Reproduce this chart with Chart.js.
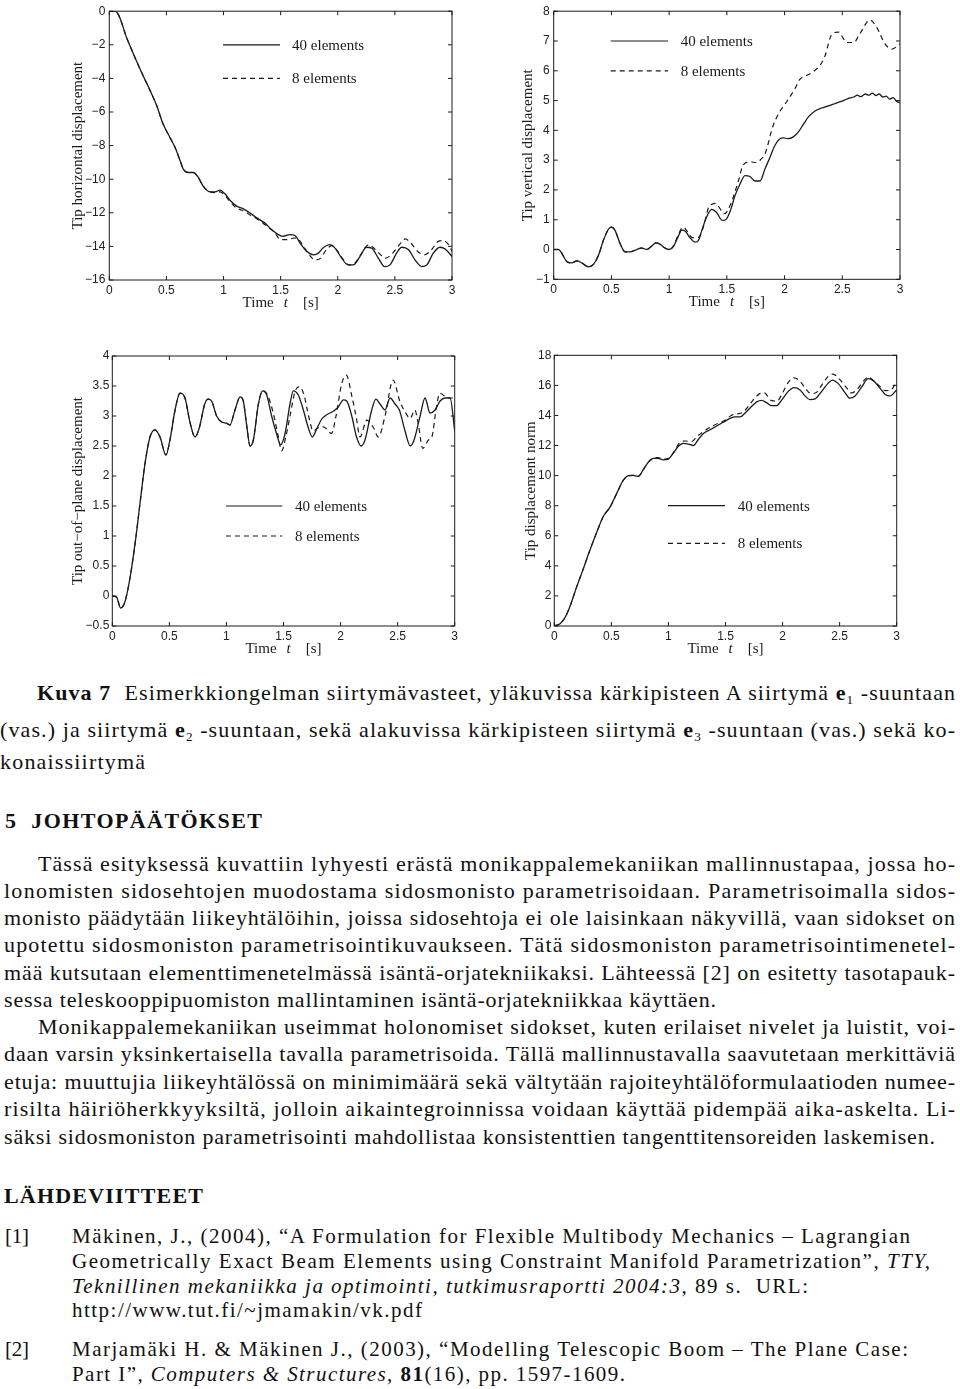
<!DOCTYPE html>
<html>
<head>
<meta charset="utf-8">
<script src="https://cdn.jsdelivr.net/npm/chart.js@4.4.1/dist/chart.umd.min.js"></script>
<style>
  html, body { margin:0; padding:0; background:#fff; }
  body { width:960px; height:1389px; position:relative; overflow:hidden; }
  canvas { position:absolute; }
  .ln { position:absolute; white-space:nowrap; font-family:'Liberation Serif','Times New Roman',serif; line-height:1; color:#111; }
  .ln sub { font-size:0.6em; vertical-align:baseline; position:relative; top:0.3em; }
</style>
</head>
<body>
<canvas id="c1" width="480" height="330" style="left:0;top:0"></canvas>
<canvas id="c2" width="480" height="330" style="left:480px;top:0"></canvas>
<canvas id="c3" width="480" height="340" style="left:0;top:330px"></canvas>
<canvas id="c4" width="480" height="340" style="left:480px;top:330px"></canvas>
<script>
// ---------- DATA ----------
const xTicks = [0, 0.5, 1, 1.5, 2, 2.5, 3];
const hTicks = [-16, -14, -12, -10, -8, -6, -4, -2, 0];
const vTicks = [-1, 0, 1, 2, 3, 4, 5, 6, 7, 8];
const oTicks = [-0.5, 0, 0.5, 1, 1.5, 2, 2.5, 3, 3.5, 4];
const nTicks = [0, 2, 4, 6, 8, 10, 12, 14, 16, 18];
const seriesNames = ['40 elements', '8 elements'];

// Tip horizontal displacement
const h40T = [0,0.05,0.07,0.093,0.15,0.196,0.24,0.30,0.356,0.414,0.47,0.53,0.575,0.62,0.648,0.69,0.735,0.78,0.82,0.88,0.925,0.97,1.01,1.056,1.115,1.17,1.23,1.29,1.36,1.42,1.48,1.52,1.58,1.625,1.67,1.73,1.79,1.83,1.87,1.93,1.976,2.034,2.09,2.136,2.195,2.25,2.297,2.355,2.41,2.457,2.515,2.56,2.62,2.676,2.734,2.78,2.836,2.895,2.94,3.0];
const h40V = [0,0,-0.1,-0.4,-1.55,-2.3,-3.0,-3.9,-4.7,-5.6,-6.7,-7.5,-8.1,-8.9,-9.4,-9.6,-9.6,-9.9,-10.4,-10.75,-10.75,-10.65,-10.85,-11.25,-11.6,-11.75,-12.0,-12.3,-12.6,-13.0,-13.3,-13.4,-13.3,-13.35,-13.8,-14.3,-14.5,-14.4,-14.1,-13.9,-14.1,-14.7,-15.1,-15.1,-14.6,-14.05,-14.1,-14.7,-15.2,-15.1,-14.4,-14.05,-14.2,-14.8,-15.2,-15.1,-14.4,-14.05,-14.15,-14.6];
const h8T = [0,0.05,0.07,0.093,0.15,0.196,0.24,0.30,0.356,0.414,0.47,0.53,0.575,0.62,0.648,0.69,0.735,0.78,0.82,0.88,0.925,0.97,1.01,1.06,1.11,1.16,1.2,1.25,1.3,1.35,1.4,1.45,1.5,1.56,1.62,1.66,1.7,1.75,1.8,1.85,1.9,1.95,2.0,2.05,2.1,2.15,2.2,2.27,2.3,2.36,2.42,2.48,2.54,2.59,2.64,2.7,2.76,2.82,2.88,2.92,2.97,3.0];
const h8V = [0,0,-0.1,-0.4,-1.55,-2.3,-3.0,-3.9,-4.7,-5.6,-6.7,-7.5,-8.1,-8.9,-9.4,-9.6,-9.6,-9.9,-10.4,-10.75,-10.8,-10.75,-10.95,-11.35,-11.7,-11.85,-12.0,-12.2,-12.4,-12.65,-12.9,-13.2,-13.6,-13.6,-13.5,-13.6,-14.0,-14.5,-14.8,-14.7,-14.2,-13.95,-14.3,-14.8,-15.1,-15.0,-14.5,-13.9,-14.0,-14.4,-14.7,-14.4,-13.9,-13.55,-13.8,-14.3,-14.5,-14.2,-13.7,-13.65,-13.9,-14.3];

// Tip vertical displacement
const v40T = [0,0.04,0.113,0.156,0.2,0.243,0.30,0.344,0.387,0.43,0.474,0.5,0.53,0.575,0.62,0.66,0.72,0.76,0.806,0.85,0.884,0.92,0.964,1.0,1.037,1.08,1.11,1.138,1.18,1.224,1.253,1.28,1.325,1.369,1.41,1.46,1.49,1.53,1.57,1.614,1.657,1.7,1.744,1.787,1.83,1.874,1.917,1.96,1.99,2.03,2.076,2.12,2.163,2.206,2.264,2.32,2.38,2.437,2.51,2.56,2.6,2.63,2.66,2.7,2.73,2.76,2.79,2.82,2.85,2.88,2.91,2.94,2.97,3.0];
const v40V = [0,0,-0.4,-0.45,-0.38,-0.45,-0.58,-0.5,-0.2,0.3,0.68,0.75,0.65,0.2,-0.08,-0.08,0.0,0.05,0.0,0.12,0.22,0.18,0.05,0.0,0.1,0.45,0.65,0.62,0.4,0.25,0.3,0.6,1.1,1.35,1.25,0.98,1.0,1.3,1.8,2.2,2.48,2.45,2.3,2.3,2.7,3.1,3.5,3.72,3.75,3.72,3.78,3.95,4.2,4.45,4.65,4.75,4.82,4.9,5.0,5.08,5.12,5.18,5.13,5.22,5.18,5.25,5.17,5.22,5.12,5.15,5.05,5.1,4.98,4.92];
const v8T = [0,0.04,0.113,0.156,0.2,0.243,0.30,0.344,0.387,0.43,0.474,0.5,0.53,0.575,0.62,0.66,0.72,0.76,0.806,0.85,0.884,0.92,0.964,1.0,1.037,1.08,1.12,1.16,1.2,1.25,1.3,1.34,1.37,1.4,1.48,1.53,1.6,1.64,1.7,1.76,1.8,1.83,1.9,1.96,2.02,2.09,2.13,2.22,2.31,2.35,2.41,2.466,2.54,2.6,2.65,2.74,2.8,2.87,2.93,3.0];
const v8V = [0,0,-0.4,-0.45,-0.38,-0.45,-0.58,-0.5,-0.2,0.3,0.68,0.75,0.65,0.2,-0.08,-0.08,0.0,0.05,0.0,0.12,0.22,0.18,0.05,0.0,0.12,0.5,0.75,0.6,0.4,0.4,0.8,1.4,1.52,1.55,1.2,1.5,2.3,2.83,2.94,2.92,3.05,3.2,4.15,4.64,4.97,5.4,5.7,5.9,6.2,6.5,7.23,7.3,6.95,6.95,7.23,7.7,7.45,6.9,6.73,6.9];

// Tip out-of-plane displacement
const o40T = [0,0.038,0.073,0.11,0.155,0.2,0.24,0.286,0.33,0.374,0.418,0.47,0.505,0.55,0.593,0.637,0.68,0.725,0.762,0.81,0.84,0.87,0.914,0.958,1.0,1.03,1.075,1.12,1.148,1.177,1.207,1.236,1.28,1.318,1.353,1.396,1.44,1.475,1.513,1.557,1.586,1.63,1.674,1.718,1.753,1.79,1.835,1.878,1.937,1.98,2.025,2.054,2.098,2.14,2.18,2.214,2.273,2.31,2.346,2.39,2.434,2.477,2.515,2.565,2.61,2.644,2.697,2.74,2.784,2.828,2.872,2.916,2.96,3.0];
const o40V = [0,-0.02,-0.2,-0.1,0.3,0.88,1.5,2.2,2.65,2.77,2.65,2.35,2.6,3.1,3.38,3.3,2.9,2.65,2.8,3.2,3.28,3.25,3.0,2.9,2.88,2.85,3.1,3.32,3.25,2.85,2.5,2.6,3.2,3.42,3.35,3.0,2.7,2.52,2.7,3.2,3.42,3.35,3.1,2.8,2.65,2.78,2.95,3.02,3.08,3.15,3.27,3.25,3.0,2.65,2.5,2.6,3.1,3.28,3.2,3.1,3.3,3.2,3.1,2.75,2.5,2.6,3.0,3.3,3.05,3.1,3.25,3.3,3.3,2.75];
const o8T = [0,0.038,0.073,0.11,0.155,0.2,0.24,0.286,0.33,0.374,0.418,0.47,0.505,0.55,0.593,0.637,0.68,0.725,0.762,0.81,0.84,0.87,0.914,0.958,1.0,1.03,1.075,1.12,1.148,1.177,1.207,1.236,1.28,1.318,1.36,1.41,1.45,1.484,1.52,1.557,1.6,1.64,1.68,1.72,1.76,1.8,1.85,1.92,1.96,2.01,2.05,2.1,2.14,2.17,2.23,2.29,2.33,2.39,2.46,2.52,2.565,2.61,2.65,2.68,2.72,2.77,2.8,2.84,2.87,2.94,3.0];
const o8V = [0,-0.02,-0.2,-0.1,0.3,0.88,1.5,2.2,2.65,2.77,2.65,2.35,2.6,3.1,3.38,3.3,2.9,2.65,2.8,3.2,3.28,3.25,3.0,2.9,2.88,2.85,3.1,3.32,3.25,2.85,2.5,2.6,3.2,3.42,3.35,3.05,2.7,2.42,2.65,3.0,3.4,3.49,3.35,3.0,2.75,2.8,2.82,2.71,3.0,3.54,3.68,3.32,2.95,2.65,2.93,2.8,2.65,3.0,3.6,3.24,3.07,2.96,3.1,2.88,2.46,2.6,2.65,3.15,3.38,3.3,3.3];

// Tip displacement norm
const n40T = [0,0.05,0.093,0.137,0.196,0.254,0.31,0.37,0.43,0.488,0.546,0.605,0.65,0.69,0.736,0.78,0.824,0.868,0.91,0.955,1.0,1.043,1.087,1.13,1.175,1.218,1.262,1.306,1.364,1.423,1.48,1.54,1.583,1.627,1.67,1.715,1.773,1.817,1.86,1.905,1.949,1.99,2.05,2.1,2.153,2.197,2.24,2.285,2.343,2.4,2.436,2.49,2.548,2.59,2.635,2.694,2.75,2.797,2.855,2.9,2.94,3.0];
const n40V = [0,0.15,0.55,1.3,2.6,3.8,5.0,6.2,7.3,7.9,8.8,9.7,10.0,10.02,9.95,10.4,10.9,11.15,11.15,11.05,11.1,11.5,11.95,12.15,12.1,12.0,12.4,12.8,13.05,13.3,13.55,13.8,13.9,13.9,14.15,14.5,14.9,15.0,14.85,14.65,14.65,15.0,15.6,15.85,15.7,15.3,15.05,15.1,15.6,16.15,16.35,16.1,15.5,15.15,15.3,15.9,16.45,16.3,15.8,15.4,15.3,15.7];
const n8T = [0,0.05,0.093,0.137,0.196,0.254,0.31,0.37,0.43,0.488,0.546,0.605,0.65,0.69,0.736,0.78,0.824,0.868,0.91,0.955,1.0,1.05,1.1,1.15,1.2,1.25,1.3,1.4,1.5,1.55,1.6,1.65,1.7,1.75,1.8,1.84,1.9,1.95,2.0,2.05,2.1,2.15,2.2,2.25,2.3,2.35,2.4,2.44,2.5,2.56,2.6,2.65,2.7,2.75,2.8,2.85,2.9,2.95,3.0];
const n8V = [0,0.15,0.55,1.3,2.6,3.8,5.0,6.2,7.3,7.9,8.8,9.7,10.0,10.02,9.95,10.4,10.9,11.15,11.2,11.1,11.15,11.6,12.2,12.3,12.25,12.6,12.9,13.35,13.7,14.0,14.1,14.2,14.6,15.1,15.45,15.5,15.0,14.95,15.5,16.2,16.5,16.3,15.8,15.45,15.55,16.1,16.6,16.75,16.4,15.85,15.5,15.7,16.2,16.55,16.3,15.95,15.65,15.7,16.3];

// ---------- CHARTS ----------
const INK = '#1b1b1b';
const zip = (t, v) => t.map((x, i) => ({x, y: v[i]}));
const fmt = v => String(v).replace('-', '\u2212');

const boxPlugin = {
  id: 'matlabBox',
  afterDatasetsDraw(chart, args, o) {
    const {ctx, chartArea: a, scales: {x, y}} = chart;
    ctx.save();
    ctx.strokeStyle = INK; ctx.lineWidth = 1; ctx.setLineDash([]);
    ctx.strokeRect(a.left, a.top, a.right - a.left, a.bottom - a.top);
    const L = 4;
    ctx.beginPath();
    x.ticks.forEach(t => {
      const p = x.getPixelForValue(t.value);
      ctx.moveTo(p, a.bottom); ctx.lineTo(p, a.bottom - L);
      ctx.moveTo(p, a.top); ctx.lineTo(p, a.top + L);
    });
    y.ticks.forEach(t => {
      const p = y.getPixelForValue(t.value);
      ctx.moveTo(a.left, p); ctx.lineTo(a.left + L, p);
      ctx.moveTo(a.right, p); ctx.lineTo(a.right - L, p);
    });
    ctx.stroke();
    // legend
    ctx.font = '15px "Liberation Serif"';
    ctx.fillStyle = INK; ctx.textBaseline = 'middle'; ctx.textAlign = 'left';
    o.legend.forEach((it, i) => {
      const py = y.getPixelForValue(it.y);
      ctx.lineWidth = 1.2;
      ctx.setLineDash(i === 0 ? [] : [5, 4]);
      ctx.beginPath();
      ctx.moveTo(x.getPixelForValue(o.lx0), py);
      ctx.lineTo(x.getPixelForValue(o.lx1), py);
      ctx.stroke();
      ctx.setLineDash([]);
      ctx.fillText(seriesNames[i], x.getPixelForValue(o.tx), py + 1);
    });
    // x title: Time  t  [s]
    const ty = a.bottom + 23;
    ctx.font = '15px "Liberation Serif"';
    const w1 = ctx.measureText('Time').width;
    const w3 = ctx.measureText('[s]').width;
    ctx.font = 'italic 15px "Liberation Serif"';
    const w2 = ctx.measureText('t').width;
    const g1 = 10, g2 = 15;
    let sx = (a.left + a.right) / 2 - (w1 + g1 + w2 + g2 + w3) / 2;
    ctx.font = '15px "Liberation Serif"';
    ctx.fillText('Time', sx, ty);
    ctx.font = 'italic 15px "Liberation Serif"';
    ctx.fillText('t', sx + w1 + g1, ty);
    ctx.font = '15px "Liberation Serif"';
    ctx.fillText('[s]', sx + w1 + g1 + w2 + g2, ty);
    ctx.restore();
  }
};

function makeChart(id, c) {
  const cv = document.getElementById(id);
  const W = cv.width, H = cv.height;
  const tickFont = {family: 'Liberation Sans', size: 12};
  new Chart(cv, {
    type: 'line',
    data: {datasets: [
      {data: zip(c.t40, c.v40), borderColor: INK, borderWidth: 1.3, pointRadius: 0, cubicInterpolationMode: 'monotone', fill: false},
      {data: zip(c.t8, c.v8), borderColor: INK, borderWidth: 1.2, borderDash: [5, 4], pointRadius: 0, cubicInterpolationMode: 'monotone', fill: false}
    ]},
    options: {
      responsive: false, animation: false, devicePixelRatio: 1,
      layout: {padding: {left: c.yTitleX - 9, top: c.t, right: W - c.r, bottom: H - c.b - 40}},
      plugins: {legend: {display: false}, tooltip: {enabled: false},
        matlabBox: {legend: c.legend, lx0: c.lx0, lx1: c.lx1, tx: c.tx}},
      scales: {
        x: {type: 'linear', min: 0, max: 3,
          afterBuildTicks: s => { s.ticks = xTicks.map(v => ({value: v})); },
          afterFit: s => { s.height = 40; },
          grid: {display: false, drawTicks: false}, border: {display: false},
          ticks: {padding: 3, font: tickFont, color: '#222', autoSkip: false, maxRotation: 0, callback: v => fmt(v)}},
        y: {type: 'linear', min: c.yTicks[0], max: c.yTicks[c.yTicks.length - 1],
          afterBuildTicks: s => { s.ticks = c.yTicks.map(v => ({value: v})); },
          afterFit: s => { s.width = c.l - (c.yTitleX - 9); },
          grid: {display: false, drawTicks: false}, border: {display: false},
          title: {display: true, text: c.title, color: INK, padding: 0, font: {family: 'Liberation Serif', size: 15}},
          ticks: {padding: c.tickPad, font: tickFont, color: '#222', autoSkip: false, callback: v => fmt(v)}}
      }
    },
    plugins: [boxPlugin]
  });
}

makeChart('c1', {t40: h40T, v40: h40V, t8: h8T, v8: h8V, yTicks: hTicks, title: 'Tip horizontal displacement',
  l: 109.3, t: 10.7, r: 452, b: 280, yTitleX: 78, tickPad: 4,
  legend: [{y: -2}, {y: -4}], lx0: 0.995, lx1: 1.494, tx: 1.60});
makeChart('c2', {t40: v40T, v40: v40V, t8: v8T, v8: v8V, yTicks: vTicks, title: 'Tip vertical displacement',
  l: 73.7, t: 6.7, r: 420, b: 279.3, yTitleX: 48.3, tickPad: 4,
  legend: [{y: 7}, {y: 6}], lx0: 0.494, lx1: 0.99, tx: 1.10});
makeChart('c3', {t40: o40T, v40: o40V, t8: o8T, v8: o8V, yTicks: oTicks, title: 'Tip out\u2212of\u2212plane displacement',
  l: 112.3, t: 26, r: 454.7, b: 296, yTitleX: 78.3, tickPad: 3,
  legend: [{y: 1.5}, {y: 1.0}], lx0: 0.996, lx1: 1.49, tx: 1.60});
makeChart('c4', {t40: n40T, v40: n40V, t8: n8T, v8: n8V, yTicks: nTicks, title: 'Tip displacement norm',
  l: 74.3, t: 25.3, r: 416.7, b: 296, yTitleX: 50.7, tickPad: 3,
  legend: [{y: 8}, {y: 5.5}], lx0: 0.996, lx1: 1.495, tx: 1.607});

// ---------- TEXT ----------
const textLines = [
  {x: 37, r: 955, y: 700, s: 22, h: '<b>Kuva 7</b>&nbsp; Esimerkkiongelman siirtymävasteet, yläkuvissa kärkipisteen A siirtymä <b>e</b><sub>1</sub> -suuntaan'},
  {x: 0, r: 955, y: 737, s: 22, h: '(vas.) ja siirtymä <b>e</b><sub>2</sub> -suuntaan, sekä alakuvissa kärkipisteen siirtymä <b>e</b><sub>3</sub> -suuntaan (vas.) sekä ko-'},
  {x: 0, r: 145, y: 769, s: 22, h: 'konaissiirtymä'},
  {x: 5, r: 262, y: 828, s: 22, b: 1, h: '5&nbsp; JOHTOPÄÄTÖKSET'},
  {x: 38, r: 955, y: 871, s: 22, h: 'Tässä esityksessä kuvattiin lyhyesti erästä monikappalemekaniikan mallinnustapaa, jossa ho-'},
  {x: 4, r: 955, y: 898, s: 22, h: 'lonomisten sidosehtojen muodostama sidosmonisto parametrisoidaan. Parametrisoimalla sidos-'},
  {x: 4, r: 955, y: 925, s: 22, h: 'monisto päädytään liikeyhtälöihin, joissa sidosehtoja ei ole laisinkaan näkyvillä, vaan sidokset on'},
  {x: 4, r: 955, y: 952, s: 22, h: 'upotettu sidosmoniston parametrisointikuvaukseen. Tätä sidosmoniston parametrisointimenetel-'},
  {x: 4, r: 955, y: 980, s: 22, h: 'mää kutsutaan elementtimenetelmässä isäntä-orjatekniikaksi. Lähteessä [2] on esitetty tasotapauk-'},
  {x: 4, r: 716, y: 1007, s: 22, h: 'sessa teleskooppipuomiston mallintaminen isäntä-orjatekniikkaa käyttäen.'},
  {x: 38, r: 955, y: 1034, s: 22, h: 'Monikappalemekaniikan useimmat holonomiset sidokset, kuten erilaiset nivelet ja luistit, voi-'},
  {x: 4, r: 955, y: 1061, s: 22, h: 'daan varsin yksinkertaisella tavalla parametrisoida. Tällä mallinnustavalla saavutetaan merkittäviä'},
  {x: 4, r: 955, y: 1089, s: 22, h: 'etuja: muuttujia liikeyhtälössä on minimimäärä sekä vältytään rajoiteyhtälöformulaatioden numee-'},
  {x: 4, r: 955, y: 1116, s: 22, h: 'risilta häiriöherkkyyksiltä, jolloin aikaintegroinnissa voidaan käyttää pidempää aika-askelta. Li-'},
  {x: 4, r: 935, y: 1144, s: 22, h: 'säksi sidosmoniston parametrisointi mahdollistaa konsistenttien tangenttitensoreiden laskemisen.'},
  {x: 4, r: 203, y: 1203, s: 22, b: 1, h: 'LÄHDEVIITTEET'},
  {x: 5, r: 29, y: 1244, s: 21, h: '[1]'},
  {x: 72, r: 910, y: 1244, s: 21, h: 'Mäkinen, J., (2004), “A Formulation for Flexible Multibody Mechanics – Lagrangian'},
  {x: 72, r: 930, y: 1269, s: 21, h: 'Geometrically Exact Beam Elements using Constraint Manifold Parametrization”, <i>TTY,</i>'},
  {x: 72, r: 808, y: 1294, s: 21, h: '<i>Teknillinen mekaniikka ja optimointi, tutkimusraportti 2004:3</i>, 89 s.&nbsp; URL:'},
  {x: 72, r: 422, y: 1318, s: 21, h: 'http://www.tut.fi/~jmamakin/vk.pdf'},
  {x: 5, r: 29, y: 1357, s: 21, h: '[2]'},
  {x: 72, r: 908, y: 1357, s: 21, h: 'Marjamäki H. &amp; Mäkinen J., (2003), “Modelling Telescopic Boom – The Plane Case:'},
  {x: 72, r: 625, y: 1382, s: 21, h: 'Part I”, <i>Computers &amp; Structures</i>, <b>81</b>(16), pp. 1597-1609.'}
];
textLines.forEach(L => {
  const d = document.createElement('div');
  d.className = 'ln';
  d.innerHTML = L.h;
  d.style.fontSize = L.s + 'px';
  if (L.b) d.style.fontWeight = 'bold';
  d.style.left = L.x + 'px';
  d.style.top = (L.y - 0.8375 * L.s) + 'px';
  document.body.appendChild(d);
  const w = d.getBoundingClientRect().width;
  const n = d.textContent.length;
  d.style.letterSpacing = ((L.r - L.x - w) / Math.max(n - 1, 1)) + 'px';
});
</script>
</body>
</html>
